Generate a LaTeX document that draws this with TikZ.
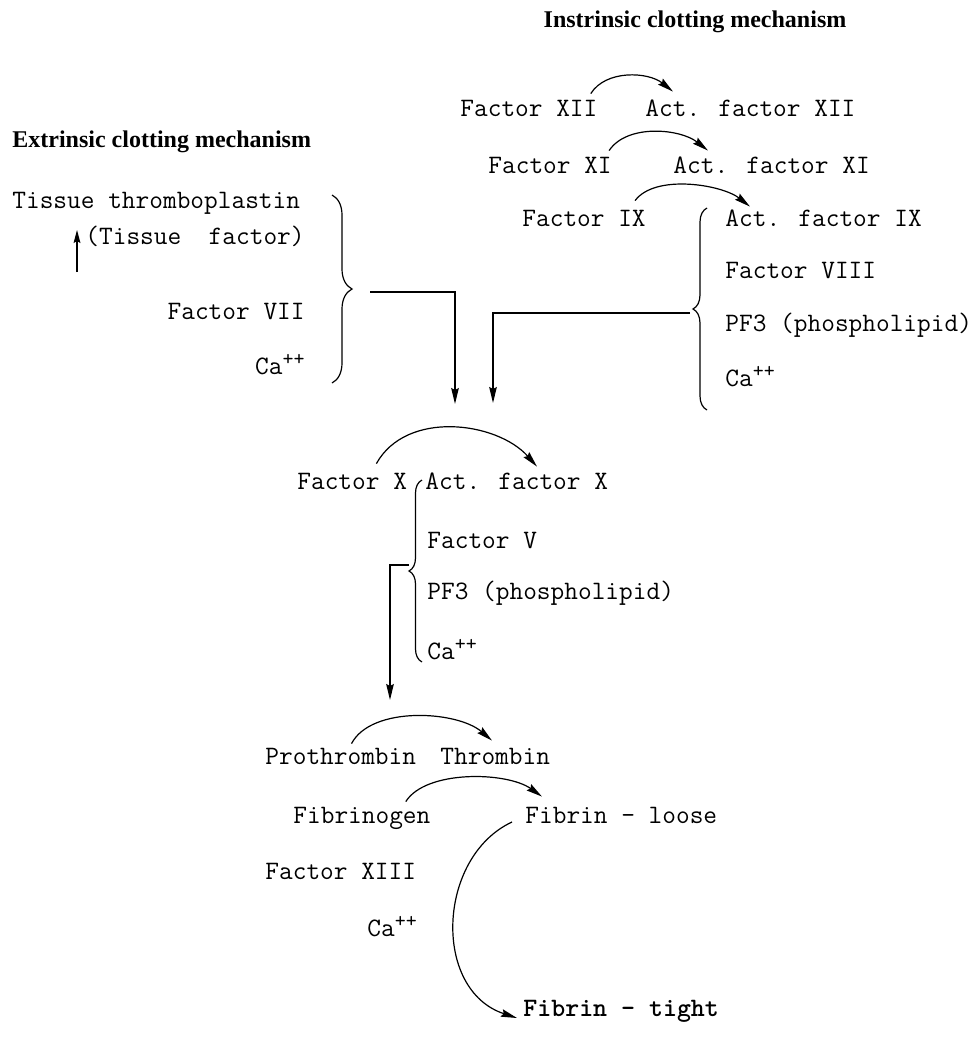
\documentclass[tikz,border=0pt]{standalone}
\usepackage{fontspec}
\setmainfont{Liberation Serif}
\usetikzlibrary{arrows.meta, decorations.pathreplacing}

\newcommand{\caplus}{Ca\raisebox{0.75ex}{\fontsize{10.5}{10}\selectfont ++}}

\tikzset{
  lbl/.style={font=\ttfamily\fontsize{13.3}{16}\selectfont, inner sep=0pt, text height=8pt, text depth=2pt, anchor=west},
  head/.style={font=\bfseries\fontsize{12}{14}\selectfont, inner sep=0pt},
  arr/.style={line width=0.6pt, -{Stealth[length=8pt, width=3.8pt, inset=1pt]}},
  brc/.style={line width=0.6pt, decorate, decoration={brace, amplitude=#1}},
  brc/.default=7pt,
}

\begin{document}
\begin{tikzpicture}[x=0.5pt, y=-0.5pt]
\useasboundingbox (0,0) rectangle (974,1039);

% headings
\node[head] (hdin) at (695,22) {Instrinsic clotting mechanism};
\node[head, anchor=west] (hdex) at (12,142) {Extrinsic clotting mechanism};

% extrinsic side
\node[lbl] (tis) at (12,202) {Tissue thromboplastin};
\node[lbl, anchor=east] (tfac) at (305,238) {(Tissue\ \ factor)};
\node[lbl, anchor=east] (f7) at (305,313) {Factor VII};
\node[lbl, anchor=east] (caex) at (305,368) {\caplus};
\draw[line width=0.6pt, -{Stealth[length=6.5pt, width=3.4pt, inset=1pt]}] ([shift={(-8,34)}]tfac.west) -- ([shift={(-8,-8)}]tfac.west);
\draw[brc=10pt] (332,195) -- (332,383);
\coordinate (extip) at (353,292);
\coordinate (inext) at (455,404);
\draw[arr] ([xshift=8.5pt]extip) -| (inext);

% intrinsic side
\node[lbl] (f12) at (460,110) {Factor XII};
\node[lbl] (af12) at (645,110) {Act. factor XII};
\node[lbl] (f11) at (488,167) {Factor XI};
\node[lbl] (af11) at (673,167) {Act. factor XI};
\node[lbl] (f9) at (522,220) {Factor IX};
\node[lbl] (af9) at (725,220) {Act. factor IX};
\node[lbl] (f8) at (725,272) {Factor VIII};
\node[lbl] (pfin) at (725,325) {PF3 (phospholipid)};
\node[lbl] (cain) at (725,380) {\caplus};
\draw[arr] ([shift={(-7,-6)}]f12.north east) .. controls +(15,-24) and +(-25,-20) .. ([shift={(28,-8)}]af12.north west);
\draw[arr] ([shift={(-3,-6)}]f11.north east) .. controls +(18,-27) and +(-28,-22) .. ([shift={(35,-6)}]af11.north west);
\draw[arr] ([shift={(-11,-9)}]f9.north east) .. controls +(20,-27) and +(-28,-22) .. ([shift={(25,-3)}]af9.north west);
\draw[brc=7pt] (707,410) -- (707,208);
\coordinate (intip) at (693,313);
\coordinate (inint) at (493,403);
\draw[arr] ([xshift=-1.5pt]intip) -| (inint);

% factor X
\node[lbl] (fx) at (297,483) {Factor X};
\node[lbl] (afx) at (425,483) {Act. factor X};
\node[lbl] (f5) at (427,542) {Factor V};
\node[lbl] (pfx) at (427,593) {PF3 (phospholipid)};
\node[lbl] (cax) at (427,653) {\caplus};
\draw[arr] ([shift={(-31,-9)}]fx.north east) .. controls +(30,-54) and +(-40,-45) .. ([shift={(112,-6)}]afx.north west);
\draw[brc=6.5pt] (422,662) -- (422,480);
\coordinate (xtip) at (409,565);
\coordinate (inpro) at (390,700);
\draw[arr] (xtip) -| (inpro);

% thrombin and fibrin
\node[lbl] (pro) at (265,758) {Prothrombin};
\node[lbl] (thr) at (440,758) {Thrombin};
\node[lbl] (fib) at (293,817) {Fibrinogen};
\node[lbl] (loose) at (525,817) {Fibrin - loose};
\node[lbl] (f13) at (265,873) {Factor XIII};
\node[lbl] (cab) at (367,930) {\caplus};
\node[lbl, font=\ttfamily\bfseries\fontsize{13.3}{16}\selectfont] (tight) at (523,1010) {Fibrin - tight};
\draw[arr] ([shift={(-65,-4)}]pro.north east) .. controls +(20,-38) and +(-35,-30) .. ([shift={(52,-7)}]thr.north west);
\draw[arr] ([shift={(-25,-5)}]fib.north east) .. controls +(20,-32) and +(-35,-25) .. ([shift={(17,-10)}]loose.north west);
\draw[arr] ([shift={(-13,5)}]loose.west) .. controls +(-75,35) and +(-85,-28) .. ([shift={(-6,8)}]tight.west);

\end{tikzpicture}
\end{document}
